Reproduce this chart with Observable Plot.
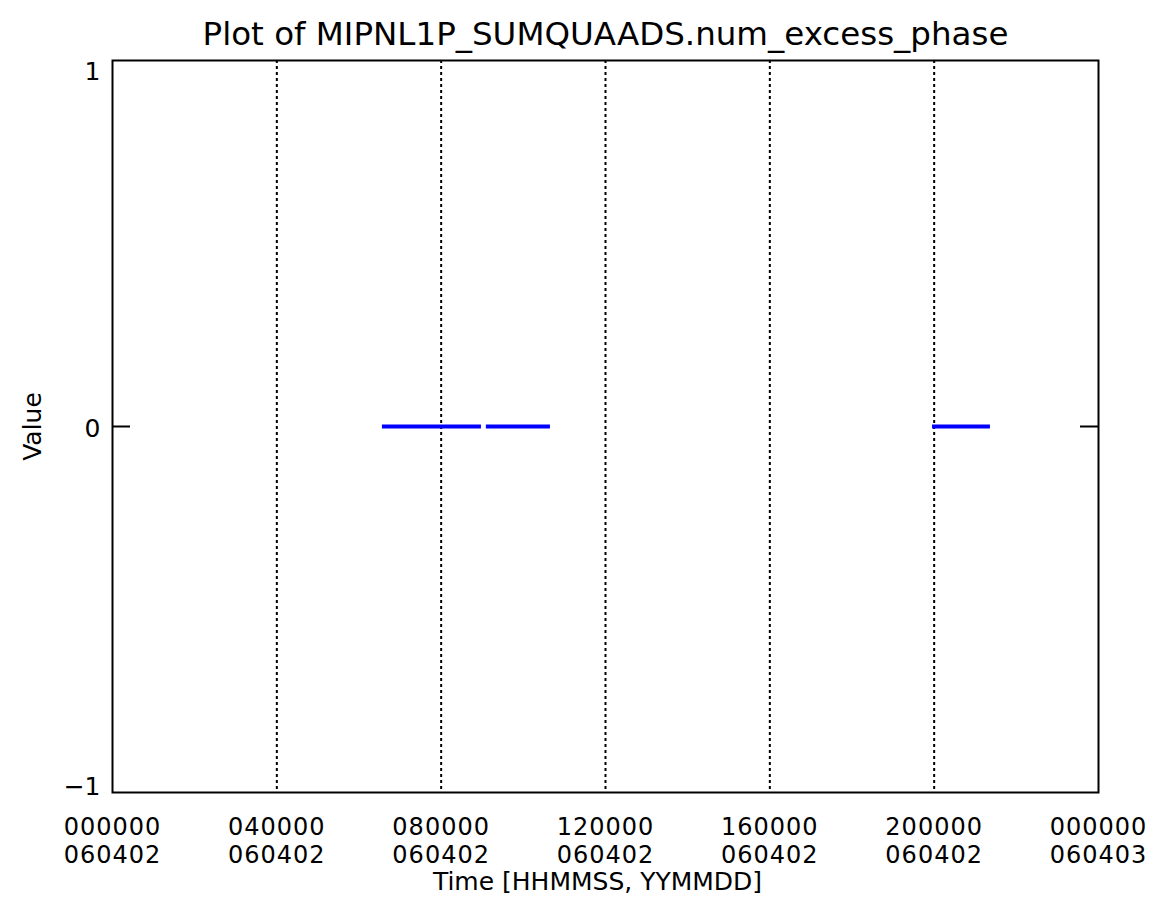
<!DOCTYPE html>
<html>
<head>
<meta charset="utf-8">
<script src="https://cdn.jsdelivr.net/npm/d3@7"></script>
<script src="https://cdn.jsdelivr.net/npm/@observablehq/plot@0.6"></script>
<style>
  html, body { margin: 0; padding: 0; background: #fff; }
  svg { display: block; }
  g[aria-label="x-axis tick label"] text { letter-spacing: 1px; }
</style>
</head>
<body>
<div id="chart"></div>
<script>
const chartTitle = "Plot of MIPNL1P_SUMQUAADS.num_excess_phase";
const xLabel = "Time [HHMMSS, YYMMDD]";
const yLabel = "Value";

// time in hours since 000000 060402
const segStart = [6.57, 9.10, 19.96];
const segEnd   = [8.98, 10.66, 21.37];
const segValue = [0, 0, 0];

const xTickHours = [0, 4, 8, 12, 16, 20, 24];
const xTickLabels = [
  "000000\n060402", "040000\n060402", "080000\n060402", "120000\n060402",
  "160000\n060402", "200000\n060402", "000000\n060403"
];
const gridHours = [4, 8, 12, 16, 20];
const yTicks = [1, 0, -1];

const segments = segStart.map((s, i) => ({start: s, end: segEnd[i], value: segValue[i]}));
const font = "'DejaVu Sans', sans-serif";
const yFmt = d => (d < 0 ? "\u2212" + Math.abs(d) : String(d));

const chart = Plot.plot({
  width: 1156,
  height: 907,
  marginLeft: 112,
  marginRight: 58,
  marginTop: 60,
  marginBottom: 115,
  style: {fontFamily: font, color: "black", background: "white"},
  x: {domain: [0, 24]},
  y: {domain: [-1, 1]},
  marks: [
    Plot.ruleX(gridHours, {x: d => d, stroke: "black", strokeWidth: 2, strokeDasharray: "3,3"}),
    Plot.ruleY(segments, {y: "value", x1: "start", x2: "end", stroke: "#0000ff", strokeWidth: 4}),
    Plot.tickY([0], {y: d => d, stroke: "black", strokeWidth: 2, insetRight: 968}),
    Plot.tickY([0], {y: d => d, stroke: "black", strokeWidth: 2, insetLeft: 968}),
    Plot.frame({stroke: "black", strokeWidth: 2}),
    Plot.axisY([yTicks[0]], {tickSize: 0, tickPadding: 12, dy: 11, fontSize: 25, tickFormat: yFmt, label: null}),
    Plot.axisY([yTicks[1]], {tickSize: 0, tickPadding: 12, dy: 2, fontSize: 25, tickFormat: yFmt, label: null}),
    Plot.axisY([yTicks[2]], {tickSize: 0, tickPadding: 12, dy: -6, fontSize: 25, tickFormat: yFmt, label: null}),
    Plot.axisX({ticks: xTickHours, tickFormat: (d, i) => xTickLabels[i], tickSize: 0, tickPadding: 23,
      fontSize: 24, lineHeight: 1.16, label: null}),
    Plot.text([xLabel], {frameAnchor: "bottom", lineAnchor: "middle", dy: 89, dx: -8, fontSize: 25, fill: "black"}),
    Plot.text([yLabel], {frameAnchor: "left", lineAnchor: "middle", textAnchor: "middle", dx: -80, rotate: -90, fontSize: 25, fill: "black"}),
    Plot.text([chartTitle], {frameAnchor: "top", lineAnchor: "middle", dy: -26, fontSize: 32.5, fill: "black"})
  ]
});
document.getElementById("chart").appendChild(chart);
</script>
</body>
</html>
